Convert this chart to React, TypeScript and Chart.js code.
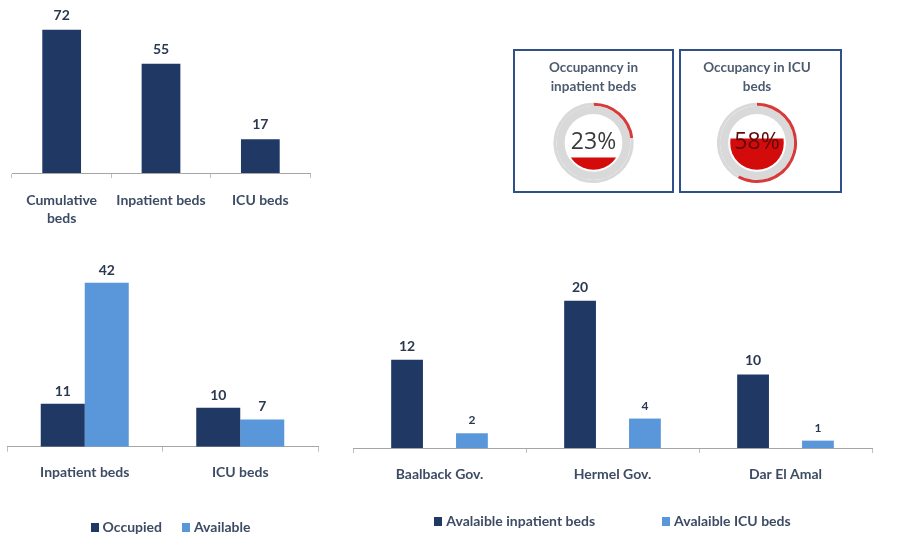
import React, { useEffect, useRef } from 'react';
import { Chart, registerables } from 'chart.js';

Chart.register(...registerables);

// ---------- data ----------
const totalCategories = [['Cumulative', 'beds'], 'Inpatient beds', 'ICU beds'];
const totalBeds = [72, 55, 17];

const occupancyCategories = ['Inpatient beds', 'ICU beds'];
const occupiedBeds = [11, 10];
const availableBeds = [42, 7];

const hospitalCategories = ['Baalback Gov.', 'Hermel Gov.', 'Dar El Amal'];
const availableInpatientBeds = [12, 20, 10];
const availableIcuBeds = [2, 4, 1];

const inpatientOccupancy = 23;
const icuOccupancy = 58;

// ---------- styles ----------
const NAVY = '#1f3864';
const LIGHT = '#5a96da';
const LABEL = '#3d4c64';
const VALUE = '#2a3850';
const RED = '#d40b0b';
const ARC_RED = '#d63a3a';
const GRAY = '#d9d9d9';
const FONT = 'Lato';

const valueLabels = {
  id: 'valueLabels',
  afterDatasetsDraw(chart: any, _args: any, opts: any) {
    const ctx = chart.ctx;
    chart.data.datasets.forEach((ds: any, i: number) => {
      const meta = chart.getDatasetMeta(i);
      const size = ds.labelSize ?? 14;
      ctx.save();
      ctx.font = `bold ${size}px ${FONT}`;
      ctx.fillStyle = VALUE;
      ctx.textAlign = 'center';
      ctx.textBaseline = 'alphabetic';
      meta.data.forEach((el: any, j: number) => {
        ctx.fillText(String(ds.data[j]), el.x, el.y - (opts.gap ?? 8));
      });
      ctx.restore();
    });
  },
};

// legend with square markers, laid out from the datasets' labels and colours
const boxLegend = {
  id: 'boxLegend',
  afterDraw(chart: any, _args: any, opts: any) {
    const ctx = chart.ctx;
    ctx.save();
    ctx.font = `bold 14px ${FONT}`;
    const items = chart.data.datasets.map((ds: any) => ({
      label: ds.label,
      color: ds.backgroundColor,
      w: 12 + ctx.measureText(ds.label).width,
    }));
    const gap = opts.gap ?? 20;
    const total = items.reduce((s: number, it: any) => s + it.w, 0) + gap * (items.length - 1);
    let x = (chart.chartArea.left + chart.chartArea.right) / 2 + (opts.shift ?? 0) - total / 2;
    const y = chart.height - (opts.bottom ?? 15);
    items.forEach((it: any) => {
      ctx.fillStyle = it.color;
      ctx.fillRect(Math.round(x), Math.round(y - 4), 8, 9);
      ctx.fillStyle = LABEL;
      ctx.textAlign = 'left';
      ctx.textBaseline = 'middle';
      ctx.fillText(it.label, x + 12, y);
      x += it.w + gap;
    });
    ctx.restore();
  },
};

const liquidGauge = {
  id: 'liquidGauge',
  afterDatasetsDraw(chart: any, _args: any, opts: any) {
    const ctx = chart.ctx;
    const meta = chart.getDatasetMeta(chart.data.datasets.length - 1);
    const arc = meta.data[0];
    if (!arc) return;
    const { x, y, innerRadius } = arc.getProps(['x', 'y', 'innerRadius'], true);
    const value = chart.data.datasets[0].data[0];
    const r = innerRadius - 2;
    const level = y + r - (2 * r * value) / 100;
    ctx.save();
    ctx.beginPath();
    ctx.rect(x - r, level, 2 * r, y + r - level + 1);
    ctx.clip();
    ctx.beginPath();
    ctx.arc(x, y, r, 0, Math.PI * 2);
    ctx.fillStyle = RED;
    ctx.fill();
    ctx.restore();
    ctx.save();
    ctx.font = `23px "Open Sans"`;
    ctx.fillStyle = opts.textColor ?? '#404040';
    ctx.textAlign = 'center';
    ctx.textBaseline = 'middle';
    ctx.fillText(`${value}%`, x, y);
    ctx.restore();
  },
};

function xAxis(height: number, padding: number) {
  return {
    grid: {
      display: true,
      drawOnChartArea: false,
      drawTicks: true,
      tickLength: 5,
      color: '#bfbfbf',
      offset: true,
    },
    border: { display: true, color: '#a6a6a6', width: 1 },
    ticks: {
      color: LABEL,
      font: { family: FONT, size: 14, weight: 'bold', lineHeight: 1.3 },
      padding,
      maxRotation: 0,
      autoSkip: false,
    },
    afterFit: (s: any) => {
      s.height = height;
    },
  };
}

function ChartBox({ style, width, height, config }: any) {
  const ref = useRef<HTMLCanvasElement>(null);
  useEffect(() => {
    const chart = new Chart(ref.current as HTMLCanvasElement, config);
    return () => chart.destroy();
  }, []);
  return (
    <div style={{ position: 'absolute', ...style }}>
      <canvas ref={ref} width={width} height={height} style={{ display: 'block', width, height }} />
    </div>
  );
}

const totalConfig: any = {
  type: 'bar',
  data: {
    labels: totalCategories,
    datasets: [
      { data: totalBeds, backgroundColor: NAVY, categoryPercentage: 1, barPercentage: 0.39 },
    ],
  },
  options: {
    responsive: false,
    animation: false,
    layout: { padding: { left: 12, right: 10, top: 0, bottom: 0 } },
    plugins: { legend: { display: false }, tooltip: { enabled: false }, valueLabels: { gap: 10 } },
    scales: { x: xAxis(62, 13), y: { display: false, min: 0, max: 87 } },
  },
  plugins: [valueLabels],
};

const occupancyConfig: any = {
  type: 'bar',
  data: {
    labels: occupancyCategories,
    datasets: [
      { label: 'Occupied', data: occupiedBeds, backgroundColor: NAVY, categoryPercentage: 0.566, barPercentage: 1 },
      { label: 'Available', data: availableBeds, backgroundColor: LIGHT, categoryPercentage: 0.566, barPercentage: 1 },
    ],
  },
  options: {
    responsive: false,
    animation: false,
    layout: { padding: { left: 7, right: 12, top: 0, bottom: 38 } },
    plugins: {
      legend: { display: false },
      tooltip: { enabled: false },
      valueLabels: { gap: 8 },
      boxLegend: { gap: 20, shift: 8, bottom: 11 },
    },
    scales: { x: xAxis(53.3, 12), y: { display: false, min: 0, max: 50.4 } },
  },
  plugins: [valueLabels, boxLegend],
};

const hospitalConfig: any = {
  type: 'bar',
  data: {
    labels: hospitalCategories,
    datasets: [
      { label: 'Avalaible inpatient beds', data: availableInpatientBeds, backgroundColor: NAVY, categoryPercentage: 0.75, barPercentage: 0.49, labelSize: 14 },
      { label: 'Avalaible ICU beds', data: availableIcuBeds, backgroundColor: LIGHT, categoryPercentage: 0.75, barPercentage: 0.49, labelSize: 12 },
    ],
  },
  options: {
    responsive: false,
    animation: false,
    layout: { padding: { left: 13, right: 46, top: 0, bottom: 34 } },
    plugins: {
      legend: { display: false },
      tooltip: { enabled: false },
      valueLabels: { gap: 9 },
      boxLegend: { gap: 67, shift: 0, bottom: 17 },
    },
    scales: { x: xAxis(56, 12), y: { display: false, min: 0, max: 26.9 } },
  },
  plugins: [valueLabels, boxLegend],
};

function gaugeConfig(title: string[], value: number, textColor: string, padRight: number): any {
  return {
    type: 'doughnut',
    data: {
      labels: ['Occupied', 'Free'],
      datasets: [
        { data: [value, 100 - value], backgroundColor: [ARC_RED, GRAY], borderWidth: 0, weight: 1 },
        { data: [100], backgroundColor: [GRAY], borderWidth: 0, weight: 2.7 },
      ],
    },
    options: {
      responsive: false,
      animation: false,
      cutout: '72%',
      layout: { padding: { left: 0, right: padRight, top: 0, bottom: 8 } },
      plugins: {
        legend: { display: false },
        tooltip: { enabled: false },
        title: {
          display: true,
          text: title,
          color: '#4d5b70',
          font: { family: FONT, size: 13.5, weight: 'bold', lineHeight: 1.4 },
          padding: { top: 7.5, bottom: 6.5 },
        },
        liquidGauge: { textColor },
      },
    },
    plugins: [liquidGauge],
  };
}

const boxStyle: any = {
  position: 'absolute',
  border: '2px solid #30508a',
  boxSizing: 'border-box',
  height: 144,
  top: 49,
};

export default function App() {
  return (
    <div
      style={{
        position: 'absolute',
        left: 0,
        top: 0,
        width: 918,
        height: 538,
        overflow: 'hidden',
        background: '#ffffff',
      }}
    >
      <ChartBox style={{ left: 0, top: 0 }} width={320} height={235} config={totalConfig} />
      <ChartBox style={{ left: 0, top: 250 }} width={330} height={288} config={occupancyConfig} />
      <ChartBox style={{ left: 340, top: 250 }} width={578} height={288} config={hospitalConfig} />
      <div style={{ ...boxStyle, left: 513, width: 161 }}>
        <ChartBox
          style={{ left: 0, top: 0 }}
          width={157}
          height={140}
          config={gaugeConfig(['Occupanncy in', 'inpatient beds'], inpatientOccupancy, '#3a3a3a', 0)}
        />
      </div>
      <div style={{ ...boxStyle, left: 679, width: 163 }}>
        <ChartBox
          style={{ left: 0, top: 0 }}
          width={159}
          height={140}
          config={gaugeConfig(['Occupancy in ICU', 'beds'], icuOccupancy, '#5e0a0a', 7)}
        />
      </div>
    </div>
  );
}
